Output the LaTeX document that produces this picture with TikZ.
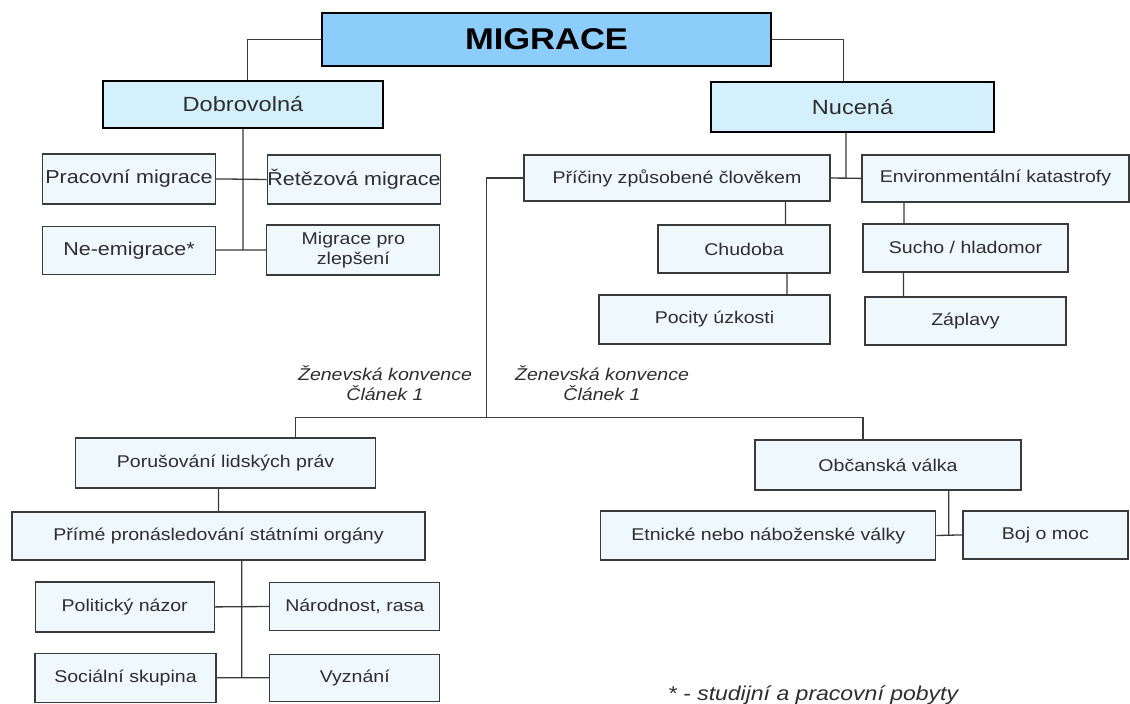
\documentclass[tikz,border=0pt]{standalone}
\usepackage{fontspec}
\setmainfont{Liberation Sans}[FakeStretch=1.15]
\usetikzlibrary{shapes}

\definecolor{topblue}{HTML}{8DCDFB}
\definecolor{midblue}{HTML}{D3F0FC}
\definecolor{leafblue}{HTML}{EEF8FD}
\definecolor{linegray}{HTML}{3A3A3A}
\definecolor{textgray}{HTML}{2E2E2E}

\begin{document}
\begin{tikzpicture}[x=1pt,y=-1pt]
		\tikzstyle{every node}=[inner sep=0pt, text=textgray, align=center];
		\tikzstyle{root}=[draw=black, line width=2.4pt, fill=topblue, font=\bfseries\fontsize{30}{32}\selectfont, text=black];
		\tikzstyle{branch}=[draw=black, line width=2.2pt, fill=midblue, font=\fontsize{20.5}{24}\selectfont];
		\tikzstyle{leaf}=[draw=linegray, line width=1.3pt, fill=leafblue, font=\fontsize{17}{20}\selectfont];
		\tikzstyle{leafbig}=[leaf, font=\fontsize{18.7}{21}\selectfont];
		\tikzstyle{note}=[font=\itshape\fontsize{17}{20}\selectfont];
		\tikzstyle{link}=[draw=linegray, line width=1.3pt];
		\useasboundingbox[fill=white] (0,0) rectangle (1130,704);
		% top levels
		\path (546.5,39.5) node[root, minimum width=449, minimum height=53] (migrace) {MIGRACE};
		\path (243,104.5)  node[branch, minimum width=280, minimum height=47] (dobr) {Dobrovolná};
		\path (852.5,107)  node[branch, minimum width=283, minimum height=50] (nucena) {Nucená};
		% voluntary
		\path (129,178.9)   node[leafbig, minimum width=173, minimum height=50] (prac) {Pracovní migrace};
		\path (354,179.5)   node[leafbig, minimum width=172, minimum height=49] (ret) {Řetězová migrace};
		\path (129,250.7)   node[leafbig, minimum width=173, minimum height=48] (neemi) {Ne-emigrace*};
		\path (353.3,249.9) node[leaf, minimum width=173, minimum height=50] (zlep) {Migrace pro\\zlepšení};
		% forced
		\path (677,178)     node[leaf, minimum width=306, minimum height=46] (pric) {Příčiny způsobené člověkem};
		\path (995.5,178.4) node[leaf, minimum width=267, minimum height=47] (env) {Environmentální katastrofy};
		\path (744,249)     node[leaf, minimum width=172, minimum height=48] (chud) {Chudoba};
		\path (714.5,319.5) node[leaf, minimum width=231, minimum height=49] (pocity) {Pocity úzkosti};
		\path (965.5,247.9) node[leaf, minimum width=205, minimum height=48] (sucho) {Sucho / hladomor};
		\path (965.5,321)   node[leaf, minimum width=201, minimum height=48] (zapl) {Záplavy};
		% geneva convention
		\path (385,383) node[note] (zenA) {Ženevská konvence\\Článek 1};
		\path (602,383) node[note] (zenB) {Ženevská konvence\\Článek 1};
		\coordinate (zen) at (486.5,417.7);
		\path (225.6,463)   node[leaf, minimum width=300, minimum height=50] (poru) {Porušování lidských práv};
		\path (218.5,535.9) node[leaf, minimum width=413, minimum height=48] (prime) {Přímé pronásledování státními orgány};
		\path (124.7,606.9) node[leaf, minimum width=179, minimum height=50] (polit) {Politický názor};
		\path (354.8,606.5) node[leaf, minimum width=170, minimum height=48] (narod) {Národnost, rasa};
		\path (125.5,677.8) node[leaf, minimum width=181, minimum height=49] (soc) {Sociální skupina};
		\path (354.8,677.7) node[leaf, minimum width=170, minimum height=47] (vyzn) {Vyznání};
		\path (888,464.9)   node[leaf, minimum width=266, minimum height=50] (obc) {Občanská válka};
		\path (768.3,535.5) node[leaf, minimum width=335, minimum height=49] (etn) {Etnické nebo náboženské války};
		\path (1045.4,534.9) node[leaf, minimum width=165, minimum height=48] (boj) {Boj o moc};
		\path (813,695) node[font=\itshape\fontsize{20}{22}\selectfont] (pozn) {* - studijní a pracovní pobyty};
		% connectors
		\draw[link] (migrace.west) -| ([xshift=4.6]dobr.north)
		(migrace.east) -| ([xshift=-8.9]nucena.north);
		\draw[link] (dobr.south) -- (dobr.south |- zlep.west)
		(prac.east) -- (ret.west)
		(neemi.east |- zlep.west) -- (zlep.west);
		\draw[link] ([xshift=-6.5]nucena.south) |- (pric.east)
		(pric.east) -- (env.west)
		([xshift=41.5]chud.north) -- ([xshift=41.5]chud.north |- pric.south)
		([xshift=43]chud.south) -- ([xshift=43]chud.south |- pocity.north)
		([xshift=-61.5]sucho.north) -- ([xshift=-61.5]sucho.north |- env.south)
		([xshift=-62]sucho.south) -- ([xshift=-62]sucho.south |- zapl.north);
		\draw[link] (pric.west) -| (zen)
		([xshift=70]poru.north) |- (zen) -| ([xshift=-25]obc.north);
		\draw[link] (prime.north) -- (prime.north |- poru.south)
		([xshift=23.3]prime.south) -- ([xshift=23.3]prime.south |- soc.east)
		(polit.east) -- (narod.west)
		(soc.east) -- (vyzn.west);
		\draw[link] ([xshift=60.8]obc.south) -- ([xshift=60.8]obc.south |- etn.east)
		(etn.east) -- (boj.west);
\end{tikzpicture}
\end{document}
